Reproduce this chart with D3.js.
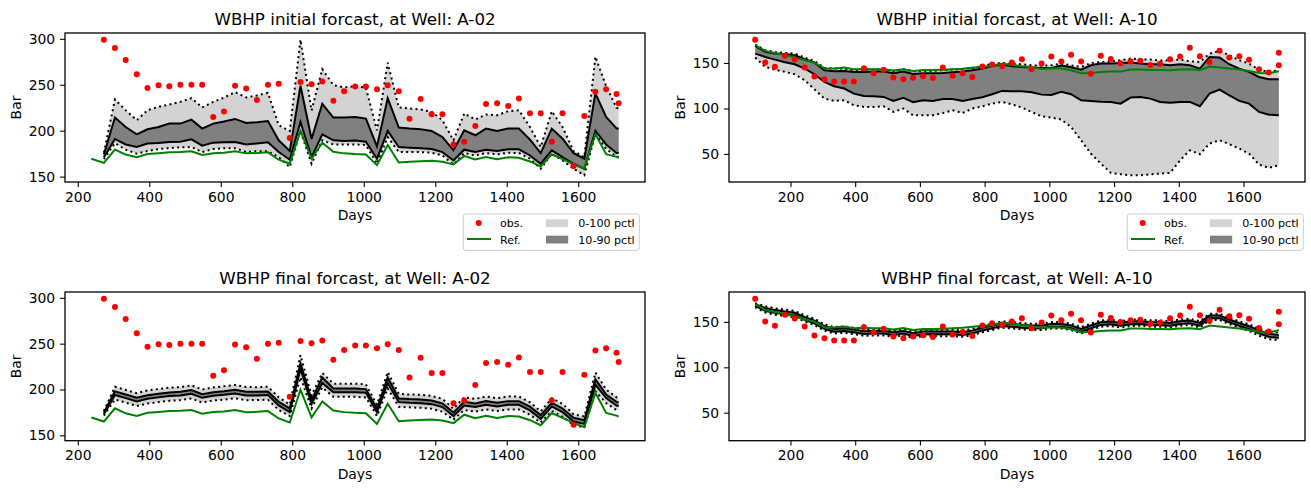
<!DOCTYPE html>
<html>
<head>
<meta charset="utf-8">
<script src="https://cdn.jsdelivr.net/npm/d3@7"></script>
<style>
  body { margin: 0; background: #fff; }
</style>
</head>
<body>
<script>
// ---- tick labels / legend ----
var xTicks = [200, 400, 600, 800, 1000, 1200, 1400, 1600];
var yTicksA02 = [150, 200, 250, 300];
var yTicksA10 = [50, 100, 150];
var legendLabels = ['obs.', 'Ref.', '0-100 pctl', '10-90 pctl'];

// ---- well A-02 ----
var daysA02 = [273,304,334,365,395,426,456,487,518,548, 579,609,640,671,701,732,762,793,823,854,
  884,915,945,976,1006,1037,1067,1098,1128,1159, 1190,1220,1251,1281,1312,1342,1373,1404,1434,1465,
  1495,1526,1556,1587,1617,1648,1678,1707,1713];
var obsA02 = [299,290,277,261.5,246.5,249.5,248.5,250,250,250, 215,221,249,246,233.5,250,251,192,253,250.5,
  253.5,232.5,243,248,248,245,249.5,243,213,234.5, 218,218,185,188,205,229,230,227,235,219,
  219,188,219,161.5,216,242.5,245,240,230];
var refDaysA02 = [238,273,304,334,365,395,426,456,487,518,548, 579,609,640,671,701,732,762,793,823,854,
  884,915,945,976,1006,1037,1067,1098,1128,1159, 1190,1220,1251,1281,1312,1342,1373,1404,1434,1465,
  1495,1526,1556,1587,1617,1648,1678,1707,1713];
var refA02 = [169.5,165,179.5,174,171,174.5,175.5,176.5,176.7,177.5,173.5, 175.5,176,177.5,175.3,175.6,176.4,168.4,164,199.7,169.5,
  187,177,175.3,174.5,174,162.5,184.5,165.3,166.2,166.8, 167.3,166.2,163.3,172.5,168.7,171.2,169,171,170.6,166.5,
  161,174.3,169,163.5,159,196.3,174.5,171.5,170.5];

var initA02P100 = [176,234,222.3,211.4,222.3,226,228.5,231.4,235.4,225.3, 231.4,236,242,236.2,238.4,241.2,206,199.7,299,222,
  267,249.7,247,248.6,246.7,200.4,274,225.3,224.2,223, 220.5,211.4,189.5,218.7,212.1,217.6,216.8,221.2,222.3,204,
  182.2,221.2,204,177.8,171.2,280.6,248.6,225,224.2];
var initA02P90 = [174,214.3,204,196,201.5,204,207.7,207.7,212,202.3, 207.7,210,212.8,208.4,209.2,210.6,189.5,177.8,249,191,
  229.3,214.3,214.3,215,213.2,183,235.4,203.4,202.3,201.5, 199.7,193,178.6,200.4,195,202.3,199.7,202.3,202.3,190.3,
  175.6,202.3,191.4,175.6,169.5,240.6,215,202.5,202.3];
var initA02P10 = [171,191,185,182.2,186,186.5,187.7,188,190.6,183.7, 187,187.3,187.7,185,186,187.3,176.7,168.4,209.5,171,
  196,189.5,188.7,189.2,188,169.5,199.7,182.2,181.5,181, 180,176.7,167.6,179.3,176.7,179.3,177.8,179.7,179.7,173,
  164,178.6,171.2,164,158.5,199.7,185,175.8,175.6];
var initA02P0 = [169,186.5,179.3,175,177.8,180,181,181.8,182.2,176.7, 180,181,181,176.7,177.8,177.5,171.2,160.3,199.7,164,
  189.5,185,185,185,184.4,164,193,176.7,176.7,176.7, 176,173,163.2,175.6,173,175.6,174.2,176,175.6,169.5,
  158.5,175,167.6,158.5,151.5,196,180.4,171.5,171.2];

var finalA02P100 = [176.5,203,199.5,196,199,200.5,202,202.5,204.5,200, 202.3,203.5,205,202.7,202.5,203,191.5,183.5,237.5,193.5,
  218,206.3,206.3,206.3,205.5,183.5,219,195.3,194.5,194.3, 193,189.8,179,191.5,189.8,192.3,190.5,192.5,192.3,186,
  176,190.5,184.3,173,170.5,218.5,200,191.5,191];
var finalA02P90 = [175,198,194.6,191,193.8,195.4,196.8,197.5,199.3,194.9, 197.1,198.2,199.7,197.5,197.5,197.9,186.6,179.3,228.4,188.4,
  213.1,201.1,201.1,201.1,200.4,179.3,213.1,190.2,189.5,189.1, 188,184.8,175,186.6,184.8,187.3,185.5,187.3,187.3,181.2,
  172,185.5,179.3,169.1,166.5,211.2,194.6,186.5,186];
var finalA02P10 = [173,194,190.6,187,189.8,191.4,192.8,193.5,195.3,190.9, 193.1,194.2,195.7,193.5,193.5,193.9,182.6,175.3,222.4,184.4,
  207.1,197.1,197.1,197.1,196.4,175.3,207.1,186.2,185.5,185.1, 184,180.8,171,182.6,180.8,183.3,181.5,183.3,183.3,177.2,
  168,181.5,175.3,165.1,162.5,205.2,190.6,182.5,182];
var finalA02P0 = [171.5,189,185.7,182,184.6,186.3,187.6,188.5,190.1,185.8, 188,189,190.4,188.3,188.5,188.8,177.7,171,213.3,179.3,
  202.2,192,192,192,191.3,171.1,201.2,181.1,180.5,180, 179,175.8,167,177.7,175.8,178.3,176.5,178.1,178.3,172.4,
  164,176.5,170.3,161.2,158.5,198,185.2,177.5,177];

// ---- well A-10 ----
var daysA10 = [91,122,152,183,213,244,274,305,335,366, 396,427,457,488,518,549,579,610,640,671,
  701,732,762,793,823,854,884,915,945,976, 1006,1037,1067,1098,1128,1159,1190,1220,1251,1281,
  1312,1342,1373,1404,1434,1465,1495,1526,1556,1587, 1617,1648,1678,1709];
var obsDaysA10 = [91,122,152,183,213,244,274,305,335,366, 396,427,457,488,518,549,579,610,640,671,
  701,732,762,793,823,854,884,915,945,976, 1006,1037,1067,1098,1128,1159,1190,1220,1251,1281,
  1312,1342,1373,1404,1434,1465,1495,1526,1556,1587, 1617,1648,1678,1709,1709];
var obsA10 = [175.5,150.5,145.8,158,153.8,145,135,132,129.6,129.6, 129.6,144.3,138.7,142.5,134,132,133.8,135.4,133.5,145,
  136,138.8,134.5,146,148.4,146.5,150.4,154,143,149.3, 157,151.7,159,151.7,138.2,158,154.3,149.8,151.7,152.4,
  147.8,149.1,154,157,166.6,157.4,151,163.5,156.1,157.4, 153.5,143.2,139.5,161.2,147.4];
var refA10 = [169.5,163.3,161,158.7,156,153,150.2,144.2,143.8,145, 143,143.5,143,143,141.7,143.2,141.2,142.3,142.2,142.5,
  143,143.7,144.8,145.8,146.7,149.3,147.8,146.4,145.3,143.4, 144.2,143.8,142,138.7,139,140.1,140.5,140.5,142.7,142.7,
  142.3,142.3,142,142.7,143.1,142,146,144.9,143.8,142.7, 141.2,139,138.7,140.9];

var initA10P100 = [170.2,164,162.1,161,160.3,155.9,152.2,144.5,143.8,143.8, 142,142.7,143.1,143.1,141.2,143.1,140.9,141.2,141.2,142,
  142.7,143.4,144.5,146.5,149.3,150,149.3,148.6,147.4,147.1, 147.4,149.3,147.4,145.6,150,151.1,151.8,153,154.8,154.1,
  153.7,152.6,153,153.7,151.8,151.1,160.3,163.2,158.5,153, 149.3,142.7,140.2,142];
var initA10P90 = [168.7,162.2,160.3,159.6,158.5,154.1,150.4,142,140.9,141.3, 140.2,140.2,140.5,140.5,138.7,140.5,138,138.7,138.7,139,
  139.8,140.5,142,144,146.7,148.2,146.4,145.6,144.9,144.5, 144.5,147.1,145.3,142.7,147.4,149.3,149.3,150,150.4,149.3,
  148.6,148.6,147.4,148.6,147.4,143.8,156.6,155.9,148.6,143.8, 140.2,134.6,132.1,132.1];
var initA10P10 = [160.3,156.6,153.7,150.8,148.6,143.8,137.6,129.2,124.4,121.9, 116.3,113.8,113.4,112.7,108.3,111.6,106.8,109,108.3,110.5,
  110.5,108.3,110.5,112.3,115.6,119.3,118.9,118.9,117.8,115.2, 114.9,118.2,115.6,109,108.3,107.5,107.2,105.3,112,112.7,
  110.8,107.2,106.4,107.2,107.2,102.4,116.3,120.7,114.5,108.3, 105.3,96.2,93.2,92.5];
var initA10P0 = [155.9,145.6,142.7,140.2,137.6,131,121.1,110.8,108.3,109, 103.5,101.7,101.7,102.4,96.2,99.9,92.5,92.5,92.5,95,
  98,95,99.9,102.4,105.3,107.2,104.6,101,96.2,91.4, 90,87.8,79.7,65.1,50.4,39.4,29.2,27.7,26.6,26.6,
  27.7,28.4,29.2,43,54,49.7,61.4,65.1,60.7,55.9, 50.4,38.3,34.7,37.6];

var finalA10P100 = [170.6,167.3,165,163.5,162.1,157.3,153.5,147.3,144.3,145, 143.5,141.7,142.1,142.1,140.6,142.1,139.5,141.3,141.3,141.3,
  141.3,140.6,142.4,145.5,148,150.6,149.8,148.7,148,148, 149.8,149.8,148,144.3,148,151.7,152.4,150.9,152.4,152.8,
  151.7,151.7,150.9,152.8,153.5,150.9,159.1,159.1,154.6,150.6, 147.5,142.7,139.2,138.3];
var finalA10P90 = [169.4,165.3,163,161.5,160.1,155.3,151.5,145.3,142.3,143, 141.5,139.7,140.1,140.1,138.6,140.1,137.5,139.3,139.3,139.3,
  139.3,138.6,140.4,143.5,146,148.6,147.8,146.7,146,146, 147.8,147.8,146,142.3,146,149.7,150.4,148.9,150.4,150.8,
  149.7,149.7,148.9,150.8,151.5,148.9,157.1,157.1,152.6,148.6, 145.3,140.5,136.8,135.7];
var finalA10P10 = [167.8,162.3,160,158.5,157.1,152.3,148.5,142.3,139.3,140, 138.5,136.7,137.1,137.1,135.6,137.1,134.5,136.3,136.3,136.3,
  136.3,135.6,137.4,140.5,143,145.6,144.8,143.7,143,143, 144.8,144.8,143,139.3,143,146.7,147.4,145.9,147.4,147.8,
  146.7,146.7,145.9,147.8,148.5,145.9,154.1,154.1,149.6,145.6, 142.3,137.3,133.6,132.5];
var finalA10P0 = [166.1,160.3,158,156.5,155.1,150.3,146.5,140.3,137.3,138, 136.5,134.7,135.1,135.1,133.6,135.1,132.5,134.3,134.3,134.3,
  134.3,133.6,135.4,138.5,141,143.6,142.8,141.7,141,141, 142.8,142.8,141,137.3,141,144.7,145.4,143.9,145.4,145.8,
  144.7,144.7,143.9,145.8,146.5,143.9,152.1,152.1,147.6,143.6, 140,134.9,131,129.9];

// ---- figure ----
var FONT = '"DejaVu Sans", sans-serif';
var LIGHT = '#d3d3d3', DARK = '#808080';

var svg = d3.select('body').append('svg')
    .attr('width', 1311)
    .attr('height', 488)
    .style('display', 'block');

var wells = [
  { name: 'A-02', left: 65, right: 645, barX: 20.7, yTicks: yTicksA02, legendX: 463.3,
    ensDays: daysA02, obsDays: daysA02, obs: obsA02, refDays: refDaysA02, ref: refA02,
    initial: [initA02P0, initA02P10, initA02P90, initA02P100],
    final: [finalA02P0, finalA02P10, finalA02P90, finalA02P100] },
  { name: 'A-10', left: 729, right: 1305, barX: 685, yTicks: yTicksA10, legendX: 1127.3,
    ensDays: daysA10, obsDays: obsDaysA10, obs: obsA10, refDays: daysA10, ref: refA10,
    initial: [initA10P0, initA10P10, initA10P90, initA10P100],
    final: [finalA10P0, finalA10P10, finalA10P90, finalA10P100] }
];
var stages = [
  { name: 'initial', top: 33, bottom: 182, legend: true },
  { name: 'final', top: 292, bottom: 440.7, legend: false }
];

// matplotlib-like 5% margins
function padded(ext) {
  var m = (ext[1] - ext[0]) * 0.05;
  return [ext[0] - m, ext[1] + m];
}

var clipId = 0;
wells.forEach(function(w) {
  var xDom = padded(d3.extent(w.refDays.concat(w.obsDays)));
  // y shared within a column, taken from the initial forecast
  var yDom = padded(d3.extent(d3.merge(w.initial).concat(w.obs, w.ref)));

  stages.forEach(function(s) {
    var x = d3.scaleLinear().domain(xDom).range([w.left, w.right]);
    var y = d3.scaleLinear().domain(yDom).range([s.bottom, s.top]);
    var band = w[s.name];

    var id = 'clip' + (clipId++);
    svg.append('clipPath').attr('id', id)
      .append('rect')
        .attr('x', w.left).attr('y', s.top)
        .attr('width', w.right - w.left).attr('height', s.bottom - s.top);

    var g = svg.append('g').attr('clip-path', 'url(#' + id + ')');

    var rows = w.ensDays.map(function(d, i) {
      return { d: d, p0: band[0][i], p10: band[1][i], p90: band[2][i], p100: band[3][i] };
    });

    g.append('path').datum(rows)
      .attr('fill', LIGHT)
      .attr('d', d3.area().x(function(r) { return x(r.d); })
        .y0(function(r) { return y(r.p0); }).y1(function(r) { return y(r.p100); }));
    g.append('path').datum(rows)
      .attr('fill', DARK)
      .attr('d', d3.area().x(function(r) { return x(r.d); })
        .y0(function(r) { return y(r.p10); }).y1(function(r) { return y(r.p90); }));

    ['p90', 'p10', 'p100', 'p0'].forEach(function(k) {
      var dotted = (k === 'p100' || k === 'p0');
      g.append('path').datum(rows)
        .attr('fill', 'none')
        .attr('stroke', '#000')
        .attr('stroke-width', 2)
        .attr('stroke-dasharray', dotted ? '2,3.3' : null)
        .attr('d', d3.line().x(function(r) { return x(r.d); }).y(function(r) { return y(r[k]); }));
    });

    g.append('path').datum(w.ref)
      .attr('fill', 'none')
      .attr('stroke', '#008000')
      .attr('stroke-width', 2)
      .attr('d', d3.line().x(function(v, i) { return x(w.refDays[i]); }).y(function(v) { return y(v); }));

    g.selectAll('circle.obs').data(w.obs).enter()
      .append('circle')
        .attr('class', 'obs')
        .attr('cx', function(v, i) { return x(w.obsDays[i]); })
        .attr('cy', function(v) { return y(v); })
        .attr('r', 3)
        .attr('fill', '#ff0000');

    // axes
    var xAxis = d3.axisBottom(x).tickValues(xTicks).tickSize(4.9).tickPadding(4.9).tickFormat(d3.format('d'));
    var yAxis = d3.axisLeft(y).tickValues(w.yTicks).tickSize(4.9).tickPadding(4.9).tickFormat(d3.format('d'));

    [[xAxis, 'translate(0,' + s.bottom + ')'], [yAxis, 'translate(' + w.left + ',0)']].forEach(function(a) {
      var ag = svg.append('g').attr('transform', a[1]).call(a[0]);
      ag.select('.domain').remove();
      ag.attr('font-size', 13.9).attr('font-family', FONT);
      ag.selectAll('line').attr('stroke', '#000').attr('stroke-width', 1.1);
      ag.selectAll('text').attr('fill', '#000');
    });

    svg.append('rect')
      .attr('x', w.left).attr('y', s.top)
      .attr('width', w.right - w.left).attr('height', s.bottom - s.top)
      .attr('fill', 'none').attr('stroke', '#000').attr('stroke-width', 1.3);

    var cx = (w.left + w.right) / 2;
    svg.append('text')
      .attr('x', cx).attr('y', s.top - 8.3)
      .attr('text-anchor', 'middle')
      .attr('font-family', FONT).attr('font-size', 16.7)
      .text('WBHP ' + s.name + ' forcast, at Well: ' + w.name);

    svg.append('text')
      .attr('x', cx).attr('y', s.bottom + 38)
      .attr('text-anchor', 'middle')
      .attr('font-family', FONT).attr('font-size', 13.9)
      .text('Days');

    svg.append('text')
      .attr('transform', 'translate(' + w.barX + ',' + ((s.top + s.bottom) / 2) + ') rotate(-90)')
      .attr('text-anchor', 'middle')
      .attr('font-family', FONT).attr('font-size', 13.9)
      .text('Bar');

    if (s.legend) drawLegend(w.legendX, s.bottom + 32);
  });
});

function drawLegend(lx, ly) {
  var lg = svg.append('g').attr('transform', 'translate(' + lx + ',' + ly + ')')
    .attr('font-family', FONT).attr('font-size', 11.1);

  lg.append('rect')
    .attr('width', 176).attr('height', 36.4).attr('rx', 2.5)
    .attr('fill', '#fff').attr('fill-opacity', 0.8)
    .attr('stroke', '#cccccc').attr('stroke-width', 1);

  lg.append('circle').attr('cx', 15.4).attr('cy', 9).attr('r', 3).attr('fill', '#ff0000');
  lg.append('line').attr('x1', 3.7).attr('x2', 27.7).attr('y1', 25).attr('y2', 25)
    .attr('stroke', '#008000').attr('stroke-width', 2);
  lg.append('rect').attr('x', 82.7).attr('y', 5.3).attr('width', 22.2).attr('height', 7.8).attr('fill', LIGHT);
  lg.append('rect').attr('x', 82.7).attr('y', 21.7).attr('width', 22.2).attr('height', 7.8).attr('fill', DARK);

  var pos = [[36.7, 13], [36.7, 29.7], [115, 13], [115, 29.7]];
  legendLabels.forEach(function(t, i) {
    lg.append('text').attr('x', pos[i][0]).attr('y', pos[i][1]).text(t);
  });
}
</script>
</body>
</html>
